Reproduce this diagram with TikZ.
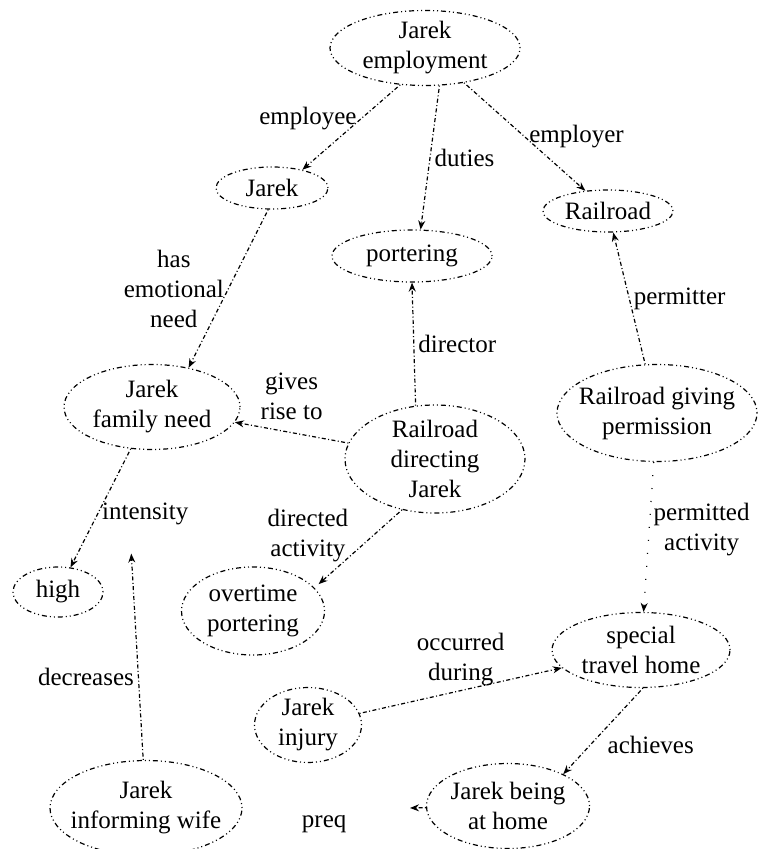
\documentclass[tikz,border=0pt]{standalone}
\usepackage{fontspec}
\setmainfont{Liberation Serif}
\usetikzlibrary{shapes.geometric, arrows.meta, positioning}

\begin{document}
\begin{tikzpicture}[
    x=0.5pt, y=-0.5pt,
    font=\fontsize{12.5}{15}\selectfont,
    concept/.style={ellipse, draw=black, line width=0.6pt, dash pattern=on 0.5pt off 1.5pt on 0.5pt off 1.5pt on 2.5pt off 1.5pt, align=center, inner sep=0pt},
    rel/.style={line width=0.6pt, dash pattern=on 0.5pt off 1.2pt on 2pt off 1.2pt, -{Stealth[length=4.5pt,width=3.5pt]}},
    faint/.style={rel, dash pattern=on 0.5pt off 6pt},
    lbl/.style={align=center, inner sep=2pt}
]
    \useasboundingbox (0,0) rectangle (757,849);

    \node (emp) [concept, minimum width=95pt, minimum height=37.5pt] at (425,48) {Jarek\\employment};
    \node (jarek) [concept, minimum width=56pt, minimum height=21pt] at (272,188) {Jarek};
    \node (port) [concept, minimum width=80pt, minimum height=26pt] at (412,256) {portering};
    \node (rail) [concept, minimum width=65pt, minimum height=21pt] at (608,211) {Railroad};
    \node (fam) [concept, minimum width=88pt, minimum height=42.5pt] at (152,407) {Jarek\\family need};
    \node (dir) [concept, minimum width=90pt, minimum height=54pt, inner ysep=-2pt] at (435,459) {Railroad\\directing\\Jarek};
    \node (perm) [concept, minimum width=100pt, minimum height=48.5pt, inner xsep=-4.5pt] at (657,413) {Railroad giving\\permission};
    \node (high) [concept, minimum width=45pt, minimum height=25pt] at (58,592) {high};
    \node (ot) [concept, minimum width=71.5pt, minimum height=44pt] at (253,611) {overtime\\portering};
    \node (travel) [concept, minimum width=89pt, minimum height=37.5pt] at (641,650) {special\\travel home};
    \node (injury) [concept, minimum width=53.5pt, minimum height=37.5pt] at (308,725) {Jarek\\injury};
    \node (wife) [concept, minimum width=96pt, minimum height=47.5pt, inner xsep=-4pt] at (146,808) {Jarek\\informing wife};
    \node (home) [concept, minimum width=81.5pt, minimum height=42.5pt] at (508,806) {Jarek being\\at home};
    \coordinate (preqtip) at (410,808);

    \draw [rel] (emp.236) -- node[lbl, left, pos=.4] {employee} (jarek.31);
    \draw [rel] (emp.291) -- node[lbl, right] {duties} (port.72);
    \draw [rel] (emp) -- node[lbl, right, pos=.5] {employer} (rail);
    \draw [rel] (jarek.260) -- node[lbl, left] {has\\emotional\\need} (fam.47);
    \draw [rel] (dir.110) -- node[lbl, right] {director} (port.south);
    \draw [rel] (perm) -- node[lbl, right] {permitter} (rail);
    \draw [rel] (dir) -- node[lbl, above=4pt] {gives\\rise to} (fam);
    \draw [rel] (fam) -- node[lbl, right, pos=.55] (intens) {intensity} (high);
    \draw [rel] (wife) -- node[lbl, left, pos=.4] {decreases} ([xshift=-7pt, yshift=-12pt]intens.south);
    \draw [rel] (dir.237) -- node[lbl, left=10pt, pos=.35] {directed\\activity} ([xshift=4pt]ot.25);
    \draw [faint] (perm) -- node[lbl, right, pos=.45] {permitted\\activity} (travel);
    \draw [rel] (injury) -- node[lbl, above] {occurred\\during} (travel);
    \draw [rel] (travel.273) -- node[lbl, below right] {achieves} (home.30);
    \draw [rel] (home) -- node[lbl, pos=1, below left=1.5pt and 29.5pt] {preq} (preqtip);
\end{tikzpicture}
\end{document}
